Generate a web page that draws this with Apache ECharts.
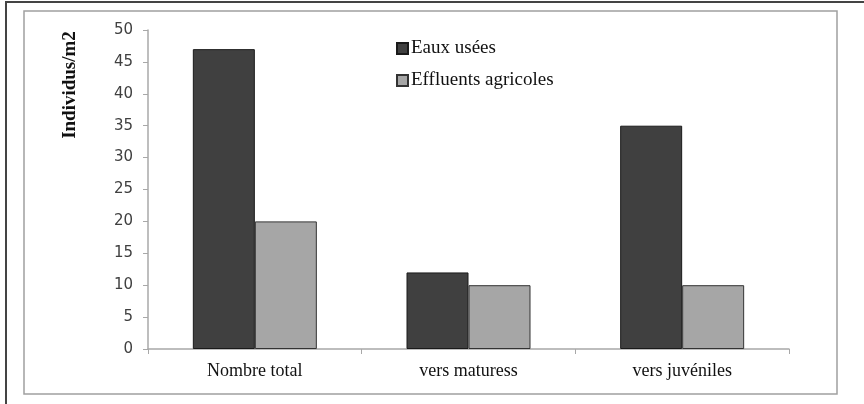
<!DOCTYPE html>
<html>
<head>
<meta charset="utf-8">
<script src="https://cdn.jsdelivr.net/npm/echarts@6/dist/echarts.min.js"></script>
<style>
    html, body { margin: 0; padding: 0; background: #fff; }
    #chart { width: 864px; height: 404px; }
</style>
</head>
<body>
<div id="chart"></div>
<script>
    // donnees
    var categories = ['Nombre total', 'vers maturess', 'vers juvéniles'];
    var eauxUsees = [47, 12, 35];
    var effluents = [20, 10, 10];
    var yTicks = [0, 50, 5]; // min, max, interval

    var chart = echarts.init(document.getElementById('chart'));
    var serif = '"Liberation Serif", "Times New Roman", serif';

    var option = {
        backgroundColor: '#fff',
        animation: false,
        grid: {
            left: 148,
            right: 75,
            top: 30,
            bottom: 55,
            containLabel: false
        },
        graphic: [
            {   // cadre exterieur
                type: 'polyline',
                shape: { points: [[6, 404], [6, 2], [864, 2]] },
                style: { stroke: '#444', lineWidth: 2, fill: null },
                silent: true
            },
            {   // cadre de la zone du graphique
                type: 'rect',
                shape: { x: 24, y: 11, width: 813, height: 383 },
                style: { stroke: '#a0a0a0', lineWidth: 1.5, fill: null },
                silent: true,
                z: -1
            },
            {
                type: 'text',
                x: 70,
                y: 85,
                rotation: Math.PI / 2,
                style: {
                    text: 'Individus/m2',
                    font: 'bold 19px ' + serif,
                    fill: '#111',
                    align: 'center',
                    verticalAlign: 'middle'
                }
            }
        ],
        legend: {
            orient: 'vertical',
            left: 391,
            top: 34,
            itemWidth: 11,
            itemHeight: 11,
            itemGap: 13,
            icon: 'rect',
            textStyle: {
                fontFamily: serif,
                fontSize: 19,
                color: '#111',
                padding: [0, 0, 0, -2]
            },
            data: ['Eaux usées', 'Effluents agricoles']
        },
        xAxis: {
            type: 'category',
            data: categories,
            axisLine: { lineStyle: { color: '#a8a8a8', width: 1.5 } },
            axisTick: { show: true, length: 5, lineStyle: { color: '#a8a8a8' } },
            axisLabel: {
                fontFamily: serif,
                fontSize: 18,
                color: '#111',
                margin: 13
            },
            splitLine: { show: false }
        },
        yAxis: {
            type: 'value',
            min: yTicks[0],
            max: yTicks[1],
            interval: yTicks[2],
            axisLine: { show: true, lineStyle: { color: '#a8a8a8', width: 1.5 } },
            axisTick: { show: true, length: 5, lineStyle: { color: '#a8a8a8' } },
            axisLabel: {
                fontFamily: '"DejaVu Sans", sans-serif',
                fontSize: 15,
                color: '#404040',
                margin: 15
            },
            splitLine: { show: false }
        },
        series: [
            {
                name: 'Eaux usées',
                type: 'bar',
                data: eauxUsees,
                barWidth: 62,
                barGap: '0%',
                itemStyle: { color: '#404040', borderColor: '#1a1a1a', borderWidth: 1 }
            },
            {
                name: 'Effluents agricoles',
                type: 'bar',
                data: effluents,
                barWidth: 62,
                barGap: '0%',
                itemStyle: { color: '#a6a6a6', borderColor: '#333', borderWidth: 1 }
            }
        ]
    };
    chart.setOption(option);
</script>
</body>
</html>
